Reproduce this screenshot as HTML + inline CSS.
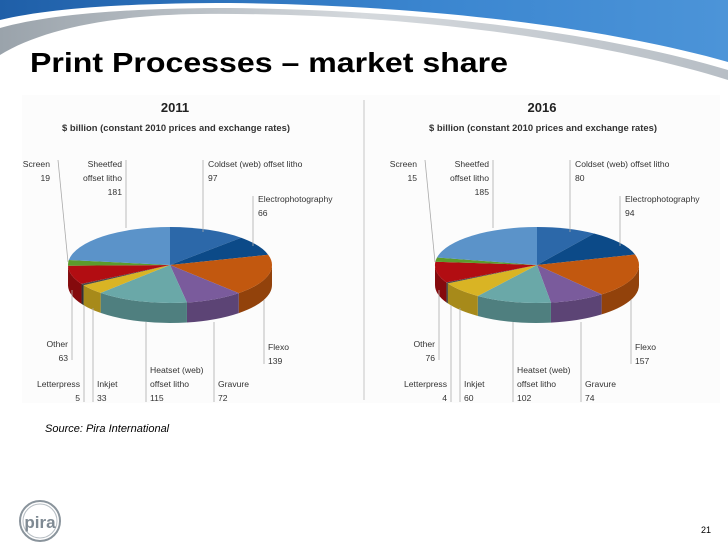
<!DOCTYPE html>
<html><head><meta charset="utf-8">
<style>
html,body{margin:0;padding:0;background:#fff;}
#root{position:relative;width:728px;height:546px;overflow:hidden;font-family:"Liberation Sans",sans-serif;}
svg text{font-family:"Liberation Sans",sans-serif;}
</style></head>
<body>
<div id="root">
<svg id="s" width="728" height="546" viewBox="0 0 728 546">
  <defs>
    <linearGradient id="blu" x1="0" y1="0" x2="1" y2="0">
      <stop offset="0" stop-color="#1f5fa8"/><stop offset="0.6" stop-color="#3b86d0"/><stop offset="1" stop-color="#4c94d8"/>
    </linearGradient>
    <linearGradient id="gry" x1="0" y1="0" x2="1" y2="0">
      <stop offset="0" stop-color="#9aa3ab"/><stop offset="0.5" stop-color="#d5d9dd"/><stop offset="1" stop-color="#b7bec5"/>
    </linearGradient>
  </defs>
  <g>
    <path d="M0,0 L728,0 L728,80 C600,40 400,12 200,14 C110,15 40,30 0,55 Z" fill="url(#gry)"/>
    <path d="M0,0 L728,0 L728,70 C600,32 420,10 230,8 C130,8 50,14 0,28 Z" fill="#fff"/>
    <path d="M0,20 C50,8 130,3 230,3 C420,5 600,26 728,62 L728,0 L0,0 Z" fill="url(#blu)"/>
  </g>
  <text x="30" y="72" font-size="28" font-weight="bold" fill="#000" textLength="478" lengthAdjust="spacingAndGlyphs">Print Processes – market share</text>
  <rect x="22" y="95" width="698" height="308" fill="#fcfcfc"/>
  <line x1="364" y1="100" x2="364" y2="400" stroke="#d8d8d8" stroke-width="1.5"/>
  <g id="c1"></g>
  <g id="c2"></g>
  <text x="45" y="432" font-size="11" font-style="italic" fill="#000">Source: Pira International</text>
  <g>
    <circle cx="40" cy="521" r="20" fill="none" stroke="#8a949c" stroke-width="2"/>
    <circle cx="40" cy="521" r="17" fill="none" stroke="#b5bcc2" stroke-width="1"/>
    <text x="40" y="528" font-size="17" text-anchor="middle" fill="#7f8a93" font-weight="bold">pira</text>
  </g>
  <text x="711" y="533" font-size="9" text-anchor="end" fill="#000">21</text>
</svg>
</div>
<script>
const categories = ["Coldset (web) offset litho","Electrophotography","Flexo","Gravure","Heatset (web) offset litho","Inkjet","Letterpress","Other","Screen","Sheetfed offset litho"];
const values2011 = [97,66,139,72,115,33,5,63,19,181];
const values2016 = [80,94,157,74,102,60,4,76,15,185];
const years = ["2011","2016"];
const subtitle = "$ billion (constant 2010 prices and exchange rates)";

const colors = ["#2c68a9","#0c4a88","#c2580f","#7a5b9c","#6aa8a8","#d9b424","#4a4a4a","#b20d12","#5c9b2c","#5b93c9"];
const sides  = ["#1f4d80","#083766","#92420b","#5c4475","#4f7f7f","#a78a1a","#333333","#850a0d","#457421","#44709a"];
const NS="http://www.w3.org/2000/svg";
function mk(tag, attrs, parent){const e=document.createElementNS(NS,tag);for(const k in attrs)e.setAttribute(k,attrs[k]);parent.appendChild(e);return e;}

const layout = [
  [["Coldset (web) offset litho"],208,167,"start",203,160,203,232],
  [["Electrophotography"],258,202,"start",253,196,253,246],
  [["Flexo"],268,350,"start",264,300,264,364],
  [["Gravure"],218,387,"start",214,322,214,402],
  [["Heatset (web)","offset litho"],150,373,"start",146,322,146,402],
  [["Inkjet"],97,387,"start",93,308,93,402],
  [["Letterpress"],80,387,"end",84,305,84,402],
  [["Other"],68,347,"end",72,290,72,360],
  [["Screen"],50,167,"end",58,160,68,262],
  [["Sheetfed","offset litho"],122,167,"end",126,160,126,228]
];

function drawChart(g, dx, vals, year){
  const cx=170+dx, cy=265, rx=102, ry=38, depth=20;
  const t=mk("text",{x:175+dx,y:112,"font-size":13,"font-weight":"bold","text-anchor":"middle",fill:"#222"},g);
  t.textContent=year;
  
  
  const st=mk("text",{x:176+dx,y:131,"font-size":9.5,"font-weight":"bold","text-anchor":"middle",fill:"#333",textLength:228,lengthAdjust:"spacingAndGlyphs"},g);
  st.textContent=subtitle;
  
  
  const total=vals.reduce((a,b)=>a+b,0);
  const pt=(a,d)=>[cx+rx*Math.sin(a), cy-ry*Math.cos(a)+(d||0)];
  let acc=0; const ang=[];
  vals.forEach(v=>{const a0=acc/total*2*Math.PI; acc+=v; ang.push([a0,acc/total*2*Math.PI]);});
  ang.forEach((r,i)=>{
    const a=Math.max(r[0],Math.PI/2), b=Math.min(r[1],3*Math.PI/2);
    if(b<=a) return;
    const p0=pt(a),p1=pt(b),q1=pt(b,depth),q0=pt(a,depth);
    const lg=(b-a)>Math.PI?1:0;
    const p=mk("path",{d:`M${p0[0]},${p0[1]} A${rx},${ry} 0 ${lg} 1 ${p1[0]},${p1[1]} L${q1[0]},${q1[1]} A${rx},${ry} 0 ${lg} 0 ${q0[0]},${q0[1]} Z`,fill:sides[i]},g);
    
    
  });
  ang.forEach((r,i)=>{
    const p0=pt(r[0]),p1=pt(r[1]);const lg=(r[1]-r[0])>Math.PI?1:0;
    const p=mk("path",{d:`M${cx},${cy} L${p0[0]},${p0[1]} A${rx},${ry} 0 ${lg} 1 ${p1[0]},${p1[1]} Z`,fill:colors[i]},g);
    
    
  });
  layout.forEach((L,i)=>{
    const ln=mk("line",{x1:L[4]+dx,y1:L[5],x2:L[6]+dx,y2:L[7],stroke:"#aaa","stroke-width":0.8},g);
    
    
    const lines=L[0].concat([String(vals[i])]);
    lines.forEach((s,k)=>{
      const tx=mk("text",{x:L[1]+dx,y:L[2]+k*14,"font-size":8.6,"text-anchor":L[3],fill:"#333"},g);
      tx.textContent=s;
      
      
    });
  });
}
drawChart(document.getElementById("c1"),0,values2011,years[0]);
drawChart(document.getElementById("c2"),367,values2016,years[1]);
</script>
</body></html>
